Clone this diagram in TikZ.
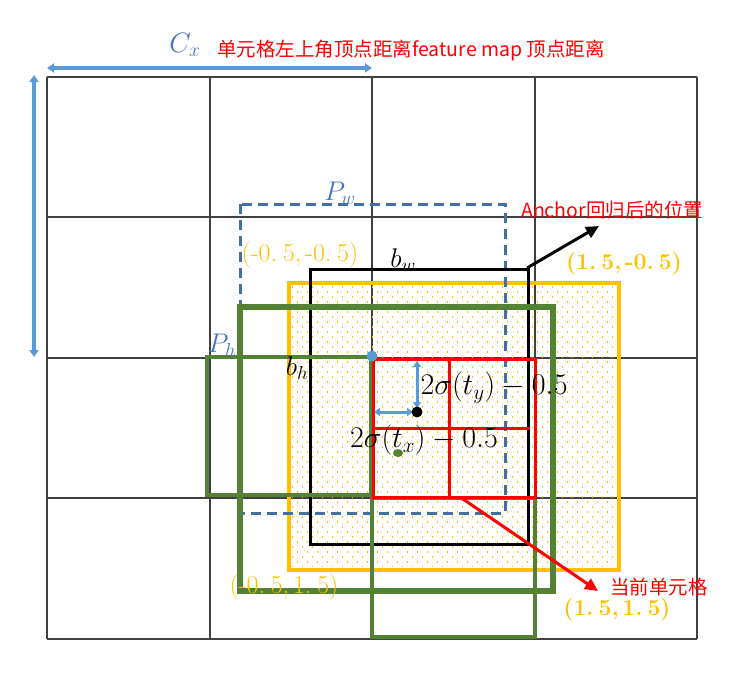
\RequirePackage{fix-cm}
\documentclass[tikz,border=0pt]{standalone}
\usepackage{fontspec}
\newfontfamily\cjk{Noto Sans CJK SC}
\usetikzlibrary{arrows.meta}
\definecolor{gridc}{HTML}{404040}
\definecolor{dashc}{HTML}{41719C}
\definecolor{yel}{HTML}{FFC000}
\definecolor{grn}{HTML}{548235}
\definecolor{lblue}{HTML}{5B9BD5}
\definecolor{tblue}{HTML}{4472C4}
\definecolor{red}{HTML}{FF0000}
\newcommand{\pt}{.\hspace{0.22em}}
\newcommand{\cm}{,\hspace{0.15em}}
\begin{document}
\begin{tikzpicture}[x=1pt,y=-1pt,
  gridline/.style={draw=gridc,line width=1.2pt},
  dashbox/.style={draw=dashc,line width=3pt,dash pattern=on 10pt off 6pt},
  yelbox/.style={draw=yel,line width=3.5pt},
  dotcol/.style={draw=yel,line width=0.9pt,dash pattern=on 1.5pt off 8.5pt},
  blackbox/.style={draw=black,line width=3pt},
  grnthick/.style={draw=grn,line width=6pt},
  grnthin/.style={draw=grn,line width=4pt},
  redline/.style={draw=red,line width=3pt},
  bluearrow/.style={draw=lblue,line width=3.5pt,{Triangle[width=9pt,length=7pt]}-{Triangle[width=9pt,length=7pt]}},
  smallarrow/.style={draw=lblue,line width=3pt,{Triangle[width=8pt,length=6pt]}-{Triangle[width=8pt,length=6pt]}},
  pointer/.style={line width=3pt,-{Triangle[width=12pt,length=13pt]}},
  redtxt/.style={text=red,font=\cjk\fontsize{19.5}{22}\selectfont,inner sep=0pt},
  coordtxt/.style={text=yel,font=\fontsize{26}{30}\selectfont,inner sep=0pt},
  coordbold/.style={text=yel,font=\bfseries\fontsize{23}{27}\selectfont,inner sep=0pt},
  mathtxt/.style={font=\fontsize{30}{34}\selectfont,inner sep=0pt},
  lbl/.style={font=\fontsize{27}{30}\selectfont,inner sep=0pt}
]
\useasboundingbox (0,0) rectangle (735,685);

% grid
\foreach \x in {47,210,372,535,697} \draw[gridline] (\x,77) -- (\x,639);
\foreach \y in {77,217,358,498,639} \draw[gridline] (47,\y) -- (697,\y);

% yellow dotted box
\foreach \i in {0,...,64} {
  \pgfmathsetmacro{\xx}{292+5*\i}
  \pgfmathsetmacro{\yy}{isodd(\i) ? 291 : 286}
  \draw[dotcol] (\xx,\yy) -- (\xx,567);
}
\draw[yelbox] (289,283) rectangle (619,570);

% dashed prior box
\draw[dashbox] (240,204) rectangle (505,513);

% black predicted box
\draw[blackbox] (310,269) rectangle (528,544);

% green boxes
\draw[grnthick] (240,307) rectangle (553,591);
\draw[grnthin] (207,357) rectangle (371,495);
\draw[grnthin] (372,498) rectangle (535,637);

% red current cell
\draw[redline] (373,359) rectangle (535,497);
\draw[redline] (449,359) -- (449,497);
\draw[redline] (373,428) -- (530,428);

% blue double arrows
\draw[bluearrow] (47,68) -- (372,68);
\draw[bluearrow] (34,75) -- (34,357);
\draw[smallarrow] (417,361) -- (417,408);
\draw[smallarrow] (374,412) -- (413,412);

% dots
\fill[lblue] (372,356) circle (5.5pt);
\fill[black] (417,412) circle (5.5pt);
\fill[grn] (398,453) ellipse (5pt and 4pt);

% pointers
\coordinate (bcorner) at (527,268);
\coordinate (btip) at (599,226);
\draw[pointer,black] (bcorner) -- (btip);
\coordinate (rstart) at (460,497);
\coordinate (rtip) at (598,591);
\draw[pointer,red] (rstart) -- (rtip);

% labels
\node[lbl,text=tblue,font=\fontsize{28}{32}\selectfont] (cx) at (185,45) {$C_x$};
\node[redtxt,anchor=west] (title) at (217,50) {单元格左上角顶点距离feature map 顶点距离};
\node[redtxt,anchor=west] (anch) at (521,210) {Anchor回归后的位置};
\node[redtxt,anchor=west] (cur) at (610,587) {当前单元格};
\node[lbl,text=tblue] (pw) at (340,193) {$P_w$};
\node[lbl] (bw) at (403,260) {$b_w$};
\node[lbl,text=tblue] (ph) at (222,345) {$P_h$};
\node[lbl] (bh) at (297,368) {$b_h$};
\node[coordtxt] (c1) at (300,255) {(-0\pt5\cm-0\pt5)};
\node[coordbold] (c2) at (624,264) {(1\pt5\cm-0\pt5)};
\node[coordtxt] (c3) at (284,587) {(-0\pt5\cm1\pt5)};
\node[coordbold] (c4) at (617,610) {(1\pt5\cm1\pt5)};
\node[mathtxt] (ty) at (494,388) {$2\sigma\bigl(t_y\bigr)-0.5$};
\node[mathtxt] (tx) at (424,440) {$2\sigma\bigl(t_x\bigr)-0.5$};
\end{tikzpicture}
\end{document}
